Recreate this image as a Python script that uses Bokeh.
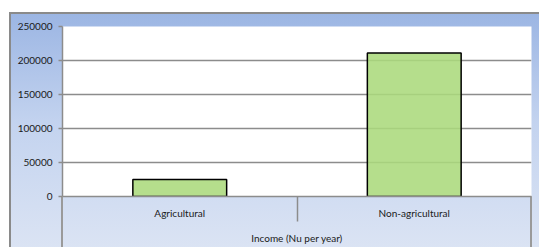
from bokeh.plotting import figure
from bokeh.models import Range1d, FixedTicker, NumeralTickFormatter
from bokeh.embed import file_html
from bokeh.resources import INLINE

categories = ["Agricultural", "Non-agricultural"]
income = [25000, 211000]
y_ticks = [0, 50000, 100000, 150000, 200000, 250000]
x_title = "Income (Nu per year)"

xs = [i + 0.5 for i in range(len(categories))]
bounds = list(range(len(categories) + 1))

FONT = "Lato"
GRAY = "#8c8c8c"

p = figure(width=539, height=247,
           x_range=Range1d(0, len(categories)), y_range=Range1d(0, y_ticks[-1]),
           output_backend="svg", toolbar_location=None,
           min_border_left=62, min_border_right=8, min_border_top=26, min_border_bottom=51)

p.border_fill_color = None
p.background_fill_color = "white"
p.outline_line_color = None
p.styles = {
    "background": (
        "linear-gradient(#8a8a8a,#8a8a8a) 9px 12px / 2px 100% no-repeat, "
        "linear-gradient(#8a8a8a,#8a8a8a) 9px 12px / 100% 2px no-repeat, "
        "linear-gradient(#9a9a9a,#9a9a9a) 61px 196px / 2px 100% no-repeat, "
        "linear-gradient(#9a9a9a,#9a9a9a) 530px 196px / 2px 100% no-repeat, "
        "linear-gradient(180deg, #9bb5e3 0%, #c3d3ef 45%, #dde5f4 100%) 9px 12px / 100% 100% no-repeat, "
        "white"
    )
}

p.vbar(x=xs, top=income, width=0.4, bottom=0,
       fill_color="#abd97c", fill_alpha=0.88, line_color="black", line_width=1.5)

# grid
p.xgrid.visible = False
p.ygrid.ticker = FixedTicker(ticks=y_ticks[:-1])
p.ygrid.grid_line_color = GRAY
p.ygrid.grid_line_width = 1.5

# y axis
p.yaxis.ticker = FixedTicker(ticks=y_ticks)
p.yaxis.formatter = NumeralTickFormatter(format="0")
p.yaxis.major_tick_out = 4
p.yaxis.major_tick_in = 0
p.yaxis.minor_tick_line_color = None
p.yaxis.major_tick_line_color = GRAY
p.yaxis.major_tick_line_width = 1.5
p.yaxis.axis_line_color = GRAY
p.yaxis.axis_line_width = 1.5
p.yaxis.major_label_standoff = 6
p.yaxis.major_label_text_font = FONT
p.yaxis.major_label_text_font_size = "10px"
p.yaxis.major_label_text_color = "#1a1a1a"

# x axis
p.xaxis.ticker = FixedTicker(ticks=xs, minor_ticks=bounds[1:-1])
p.xaxis.major_label_overrides = {x: c for x, c in zip(xs, categories)}
p.xaxis.major_tick_out = 0
p.xaxis.major_tick_in = 0
p.xaxis.major_tick_line_color = None
p.xaxis.minor_tick_out = 25
p.xaxis.minor_tick_in = 0
p.xaxis.minor_tick_line_color = GRAY
p.xaxis.minor_tick_line_width = 1.5
p.xaxis.axis_line_color = GRAY
p.xaxis.axis_line_width = 1.5
p.xaxis.major_label_standoff = -15
p.xaxis.major_label_text_font = FONT
p.xaxis.major_label_text_font_size = "10px"
p.xaxis.major_label_text_color = "#1a1a1a"
p.xaxis.axis_label = x_title
p.xaxis.axis_label_standoff = 10
p.xaxis.axis_label_text_font = FONT
p.xaxis.axis_label_text_font_size = "10px"
p.xaxis.axis_label_text_font_style = "normal"
p.xaxis.axis_label_text_color = "#1a1a1a"

open("out.html", "w").write(file_html(p, INLINE))
